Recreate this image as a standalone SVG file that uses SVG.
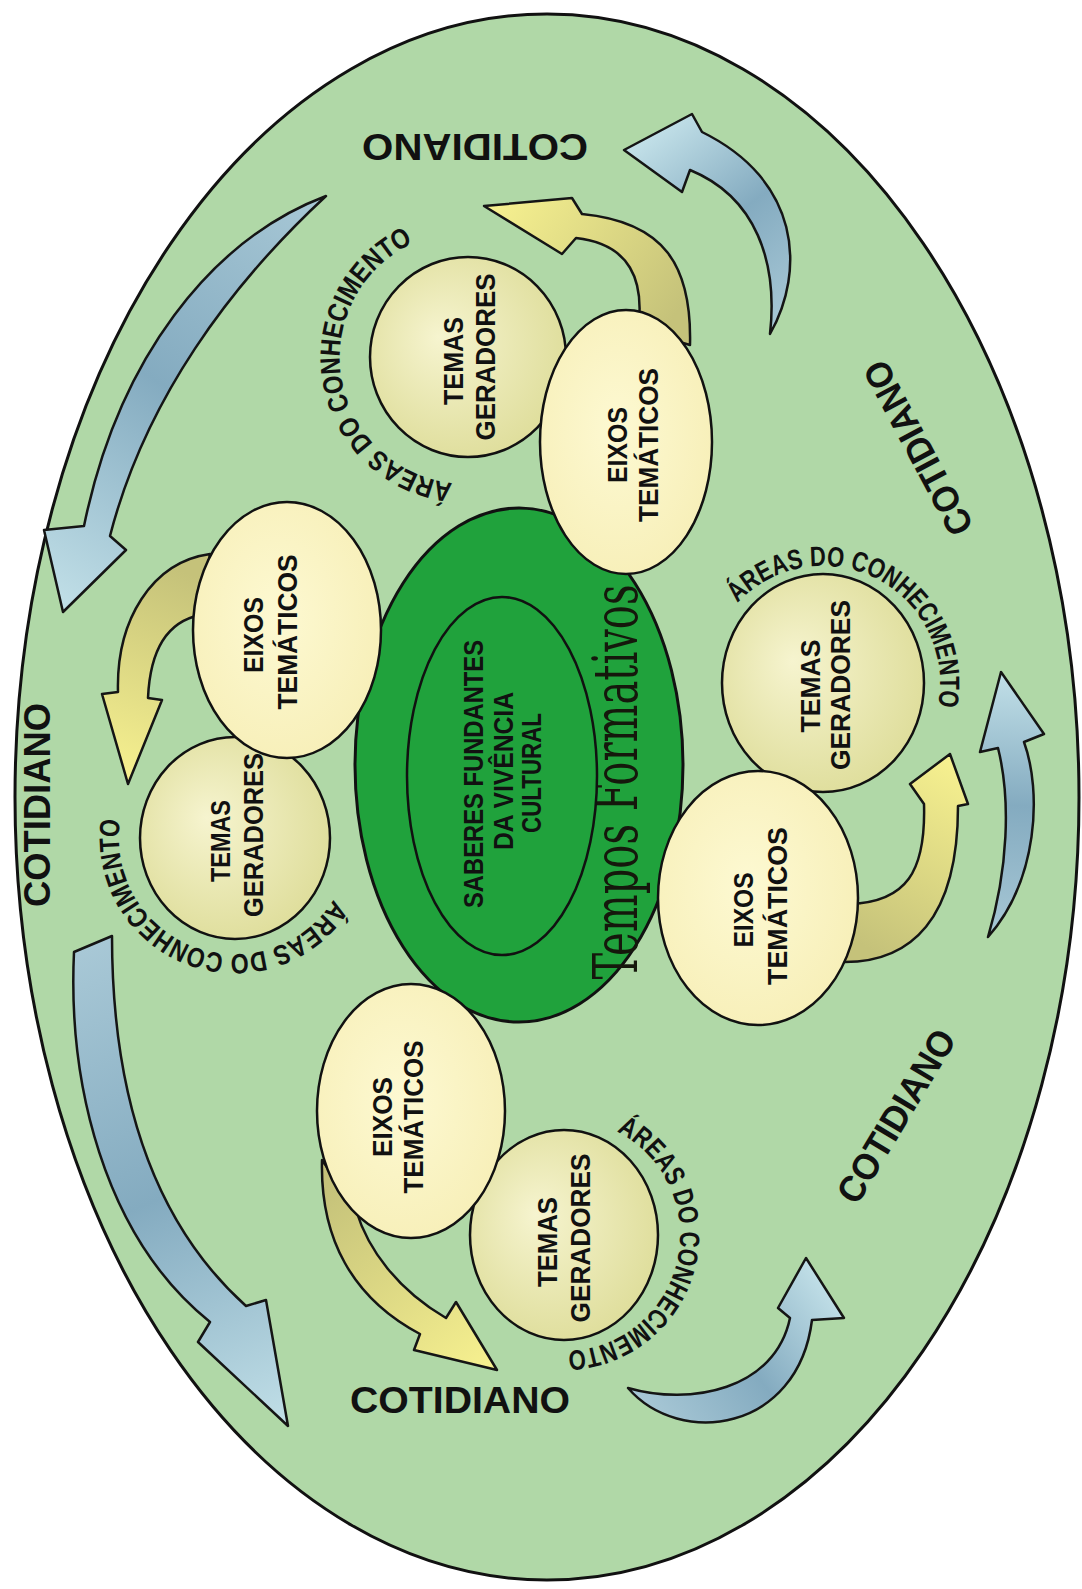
<svg xmlns="http://www.w3.org/2000/svg" width="1082" height="1589" viewBox="0 0 1082 1589">
<style>
.arrow{stroke:#151515;stroke-width:2.5;stroke-linejoin:round}
.node{stroke:#111;stroke-width:2.5}
.nt{font-family:"Liberation Sans",Arial,sans-serif;font-weight:bold;font-size:28px;fill:#111;text-anchor:middle}
.ct{font-family:"Liberation Sans",Arial,sans-serif;font-weight:bold;font-size:27px;fill:#111;text-anchor:middle}
.cot{font-family:"Liberation Sans",Arial,sans-serif;font-weight:bold;font-size:37px;fill:#111;text-anchor:middle}
.area{font-family:"Liberation Sans",Arial,sans-serif;font-weight:bold;font-size:28px;fill:#111}
.tf{font-family:"DejaVu Serif","Liberation Serif",serif;font-size:62px;fill:#15180c;text-anchor:middle}
</style>
<defs>
<radialGradient id="gT" cx="45%" cy="45%" r="60%" fx="35%" fy="40%">
<stop offset="0" stop-color="#f6f4cf"/><stop offset="1" stop-color="#dedd9a"/>
</radialGradient>
<radialGradient id="gE" cx="45%" cy="45%" r="60%">
<stop offset="0" stop-color="#fdf9d2"/><stop offset="1" stop-color="#f7efb8"/>
</radialGradient>
<linearGradient id="bA" gradientUnits="userSpaceOnUse" x1="770" y1="334" x2="630" y2="150"><stop offset="0" stop-color="#a8c8d6"/><stop offset="0.5" stop-color="#84abc0"/><stop offset="1" stop-color="#c2e0e8"/></linearGradient>
<linearGradient id="bB" gradientUnits="userSpaceOnUse" x1="326" y1="196" x2="63" y2="614"><stop offset="0" stop-color="#a8c8d6"/><stop offset="0.5" stop-color="#84abc0"/><stop offset="1" stop-color="#c2e0e8"/></linearGradient>
<linearGradient id="bC" gradientUnits="userSpaceOnUse" x1="90" y1="945" x2="290" y2="1428"><stop offset="0" stop-color="#a8c8d6"/><stop offset="0.5" stop-color="#84abc0"/><stop offset="1" stop-color="#c2e0e8"/></linearGradient>
<linearGradient id="bD" gradientUnits="userSpaceOnUse" x1="628" y1="1388" x2="808" y2="1256"><stop offset="0" stop-color="#a8c8d6"/><stop offset="0.5" stop-color="#84abc0"/><stop offset="1" stop-color="#c2e0e8"/></linearGradient>
<linearGradient id="bE" gradientUnits="userSpaceOnUse" x1="988" y1="937" x2="1003" y2="672"><stop offset="0" stop-color="#a8c8d6"/><stop offset="0.5" stop-color="#84abc0"/><stop offset="1" stop-color="#c2e0e8"/></linearGradient>
<linearGradient id="y1" gradientUnits="userSpaceOnUse" x1="665" y1="330" x2="484" y2="206"><stop offset="0" stop-color="#c5c27a"/><stop offset="1" stop-color="#f8f290"/></linearGradient>
<linearGradient id="y2" gradientUnits="userSpaceOnUse" x1="205" y1="580" x2="127" y2="787"><stop offset="0" stop-color="#c5c27a"/><stop offset="1" stop-color="#f8f290"/></linearGradient>
<linearGradient id="y3" gradientUnits="userSpaceOnUse" x1="845" y1="935" x2="950" y2="752"><stop offset="0" stop-color="#c5c27a"/><stop offset="1" stop-color="#f8f290"/></linearGradient>
<linearGradient id="y4" gradientUnits="userSpaceOnUse" x1="335" y1="1180" x2="497" y2="1370"><stop offset="0" stop-color="#c5c27a"/><stop offset="1" stop-color="#f8f290"/></linearGradient>
<path id="arcTop" d="M452.5,483 A126,126 0 0 1 426.7,237.9"/>
<path id="arcLeft" d="M333.4,899.5 A116,116 0 0 1 122.4,809.9"/>
<path id="arcRight" d="M737.4,603.2 A117,117 0 0 1 935.5,715.2"/>
<path id="arcBottom" d="M616.7,1131.6 A116,116 0 0 1 557.9,1350.8"/>
</defs>

<rect width="1082" height="1589" fill="#ffffff"/>
<g id="cotidiano-field">
<ellipse cx="547" cy="797" rx="532" ry="783" fill="#b0d8a7" stroke="#111" stroke-width="3"/>
</g>

<g id="connectors">
<path class="arrow" fill="url(#bA)" d="M770,334 C806,270 800,180 702,132 L692,114 L624,150 L682,192 L690,170 C756,197 778,262 770,334 Z"/>
<path class="arrow" fill="url(#bB)" d="M326,196 C210,240 118,360 84,526 L44,530 L63,612 L126,550 L110,536 C145,400 230,285 326,196 Z"/>
<path class="arrow" fill="url(#bC)" d="M74,952 C68,1080 102,1235 210,1322 L198,1342 L288,1426 L266,1300 L246,1306 C145,1215 112,1080 112,936 Z"/>
<path class="arrow" fill="url(#bD)" d="M628,1388 C680,1448 798,1432 812,1320 L844,1318 L806,1258 L778,1308 L790,1318 C775,1390 690,1406 628,1388 Z"/>
<path class="arrow" fill="url(#bE)" d="M988,937 C1038,880 1042,792 1024,742 L1044,734 L1001,672 L980,752 L998,748 C1011,800 1008,870 988,937 Z"/>
<path class="arrow" fill="url(#y1)" d="M690,345 C692,265 664,222 582,214 L572,198 L484,206 L562,254 L576,238 C630,244 645,280 638,330 Z"/>
<path class="arrow" fill="url(#y2)" d="M210,554 C152,562 116,620 118,692 L102,694 L128,784 L162,700 L148,698 C150,652 166,622 200,615 Z"/>
<path class="arrow" fill="url(#y3)" d="M840,962 C912,964 958,918 958,806 L968,804 L950,754 L910,784 L924,804 C926,872 906,902 850,904 Z"/>
<path class="arrow" fill="url(#y4)" d="M322,1160 C320,1238 352,1298 420,1334 L414,1350 L497,1370 L456,1302 L446,1318 C398,1290 368,1250 356,1210 Z"/>
</g>

<g id="tempos-formativos">
<ellipse cx="519" cy="765" rx="164" ry="257" fill="#20a23c" stroke="#111" stroke-width="3"/>
<text class="tf" transform="translate(637,782) rotate(-90)" textLength="395" lengthAdjust="spacingAndGlyphs">Tempos Formativos</text>
</g>
<g id="saberes-fundantes">
<ellipse cx="502" cy="776" rx="95" ry="179" fill="#20a23c" stroke="#111" stroke-width="2.5"/>
<text class="ct" transform="translate(473,774) rotate(-90)" y="9.7" textLength="268" lengthAdjust="spacingAndGlyphs">SABERES FUNDANTES</text>
<text class="ct" transform="translate(503,771) rotate(-90)" y="9.7" textLength="158" lengthAdjust="spacingAndGlyphs">DA VIVÊNCIA</text>
<text class="ct" transform="translate(531,773) rotate(-90)" y="9.7" textLength="120" lengthAdjust="spacingAndGlyphs">CULTURAL</text>
</g>

<g id="temas-top">
<ellipse class="node" cx="468" cy="357" rx="98" ry="100" fill="url(#gT)"/>
<text class="nt" transform="translate(453,361) rotate(-90)" y="10" textLength="88" lengthAdjust="spacingAndGlyphs">TEMAS</text>
<text class="nt" transform="translate(485,357) rotate(-90)" y="10" textLength="167" lengthAdjust="spacingAndGlyphs">GERADORES</text>
</g>
<g id="eixos-top">
<ellipse class="node" cx="626" cy="442" rx="86" ry="132" fill="url(#gE)"/>
<text class="nt" transform="translate(617,445) rotate(-90)" y="10" textLength="76" lengthAdjust="spacingAndGlyphs">EIXOS</text>
<text class="nt" transform="translate(648,445) rotate(-90)" y="10" textLength="154" lengthAdjust="spacingAndGlyphs">TEMÁTICOS</text>
</g>
<g id="temas-left">
<ellipse class="node" cx="235" cy="838" rx="95" ry="101" fill="url(#gT)"/>
<text class="nt" transform="translate(220,841) rotate(-90)" y="10" textLength="82" lengthAdjust="spacingAndGlyphs">TEMAS</text>
<text class="nt" transform="translate(253,835) rotate(-90)" y="10" textLength="164" lengthAdjust="spacingAndGlyphs">GERADORES</text>
</g>
<g id="eixos-left">
<ellipse class="node" cx="287" cy="630" rx="94" ry="128" fill="url(#gE)"/>
<text class="nt" transform="translate(253,635) rotate(-90)" y="10" textLength="76" lengthAdjust="spacingAndGlyphs">EIXOS</text>
<text class="nt" transform="translate(287,632) rotate(-90)" y="10" textLength="155" lengthAdjust="spacingAndGlyphs">TEMÁTICOS</text>
</g>
<g id="temas-right">
<ellipse class="node" cx="823" cy="683" rx="101" ry="109" fill="url(#gT)"/>
<text class="nt" transform="translate(810,686) rotate(-90)" y="10" textLength="93" lengthAdjust="spacingAndGlyphs">TEMAS</text>
<text class="nt" transform="translate(840,685) rotate(-90)" y="10" textLength="170" lengthAdjust="spacingAndGlyphs">GERADORES</text>
</g>
<g id="eixos-right">
<ellipse class="node" cx="758" cy="898" rx="100" ry="127" fill="url(#gE)"/>
<text class="nt" transform="translate(743,910) rotate(-90)" y="10" textLength="75" lengthAdjust="spacingAndGlyphs">EIXOS</text>
<text class="nt" transform="translate(777,906) rotate(-90)" y="10" textLength="158" lengthAdjust="spacingAndGlyphs">TEMÁTICOS</text>
</g>
<g id="temas-bottom">
<ellipse class="node" cx="564" cy="1235" rx="94" ry="105" fill="url(#gT)"/>
<text class="nt" transform="translate(547,1242) rotate(-90)" y="10" textLength="90" lengthAdjust="spacingAndGlyphs">TEMAS</text>
<text class="nt" transform="translate(580,1238) rotate(-90)" y="10" textLength="169" lengthAdjust="spacingAndGlyphs">GERADORES</text>
</g>
<g id="eixos-bottom">
<ellipse class="node" cx="411" cy="1111" rx="94" ry="127" fill="url(#gE)"/>
<text class="nt" transform="translate(382,1117) rotate(-90)" y="10" textLength="80" lengthAdjust="spacingAndGlyphs">EIXOS</text>
<text class="nt" transform="translate(413,1117) rotate(-90)" y="10" textLength="153" lengthAdjust="spacingAndGlyphs">TEMÁTICOS</text>
</g>

<g id="areas-labels">
<text class="area"><textPath href="#arcTop" textLength="328" lengthAdjust="spacingAndGlyphs">ÁREAS DO CONHECIMENTO</textPath></text>
<text class="area"><textPath href="#arcLeft" textLength="318" lengthAdjust="spacingAndGlyphs">ÁREAS DO CONHECIMENTO</textPath></text>
<text class="area"><textPath href="#arcRight" textLength="303" lengthAdjust="spacingAndGlyphs">ÁREAS DO CONHECIMENTO</textPath></text>
<text class="area"><textPath href="#arcBottom" textLength="306" lengthAdjust="spacingAndGlyphs">ÁREAS DO CONHECIMENTO</textPath></text>
</g>

<g id="cotidiano-labels">
<text class="cot" transform="translate(475,147) rotate(180)" y="13" textLength="226" lengthAdjust="spacingAndGlyphs">COTIDIANO</text>
<text class="cot" transform="translate(460,1400)" y="13" textLength="220" lengthAdjust="spacingAndGlyphs">COTIDIANO</text>
<text class="cot" transform="translate(37,805) rotate(-90)" y="13" textLength="204" lengthAdjust="spacingAndGlyphs">COTIDIANO</text>
<text class="cot" transform="translate(918,448) rotate(-118)" y="13" textLength="192" lengthAdjust="spacingAndGlyphs">COTIDIANO</text>
<text class="cot" transform="translate(896,1116) rotate(-59)" y="13" textLength="195" lengthAdjust="spacingAndGlyphs">COTIDIANO</text>
</g>
</svg>
